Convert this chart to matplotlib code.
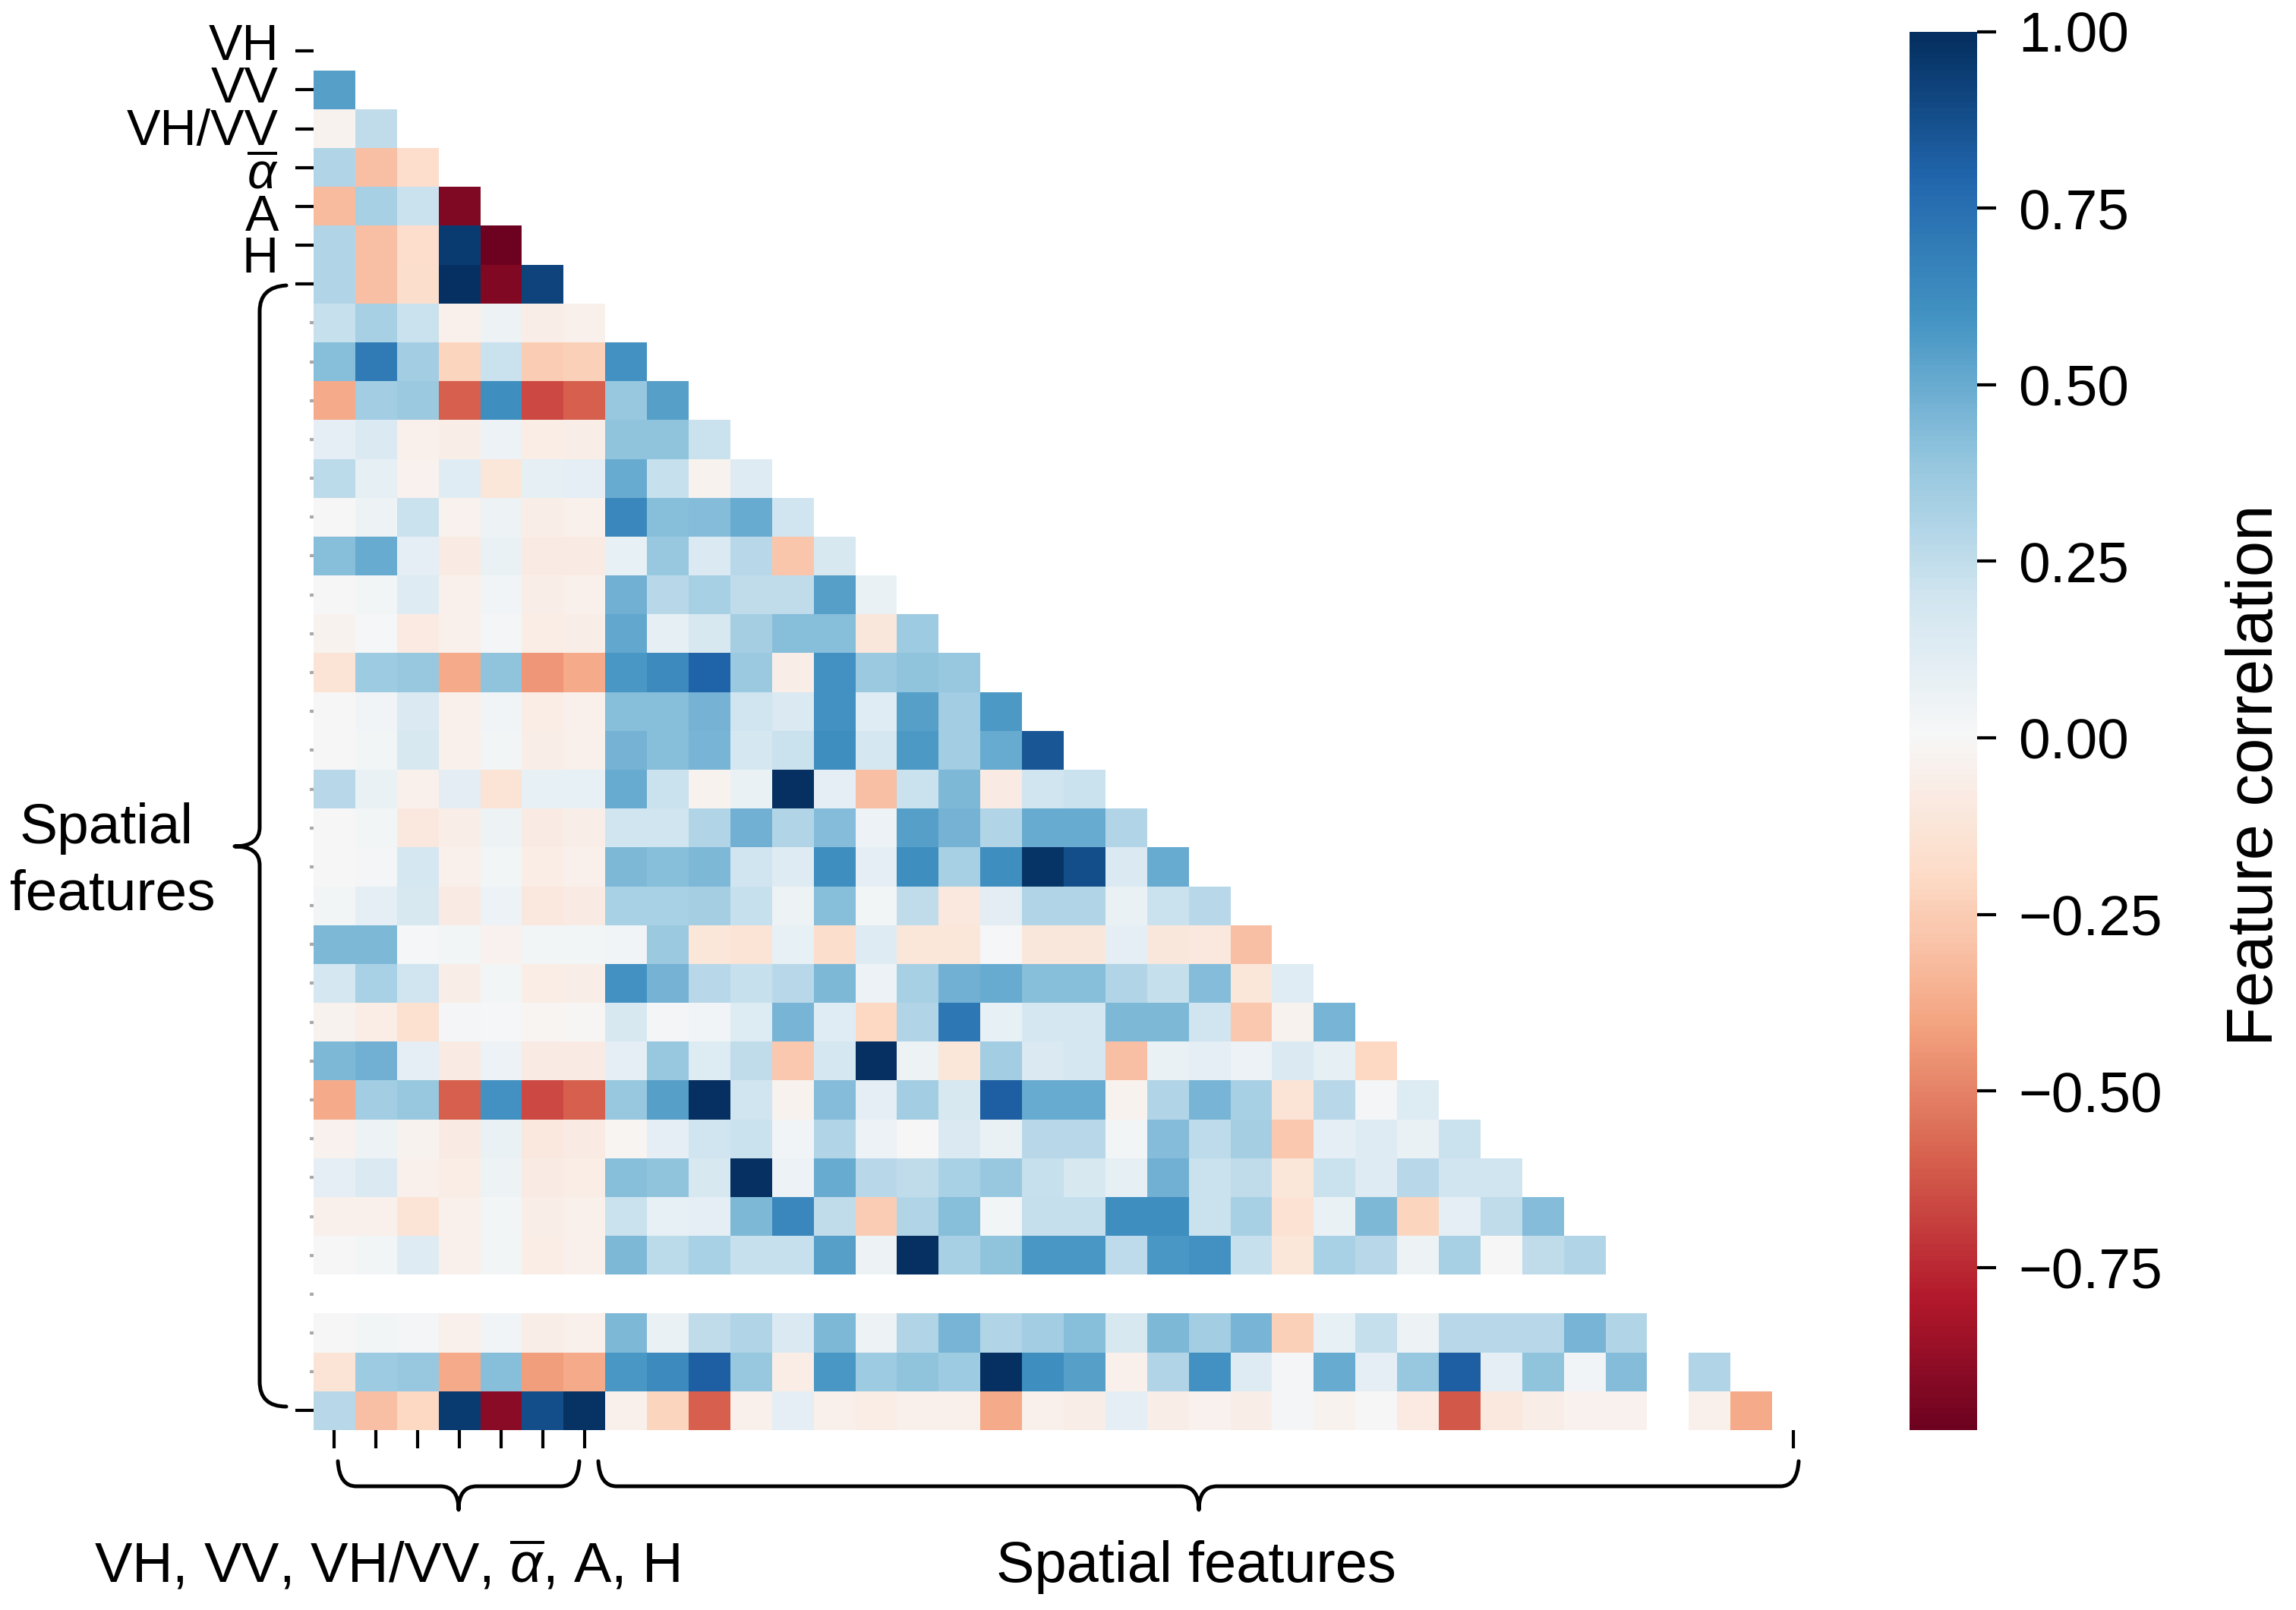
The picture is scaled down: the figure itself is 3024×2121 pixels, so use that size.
import matplotlib
matplotlib.use('Agg')
import matplotlib.pyplot as plt
from matplotlib.patches import PathPatch
from matplotlib.path import Path
import numpy as np
import seaborn as sns

nan = np.nan

# lower triangle of the correlation matrix, row by row (row 0 and row 32 are empty)
r01 = [.55]
r02 = [-.03, .25]
r03 = [.3, -.3, -.18]
r04 = [-.32, .33, .22, -.93]
r05 = [.3, -.3, -.18, .95, -.98]
r06 = [.3, -.3, -.17, 1.0, -.92, .92]
r07 = [.23, .33, .22, -.05, .05, -.06, -.05]
r08 = [.42, .7, .35, -.22, .22, -.25, -.23, .6]
r09 = [-.38, .35, .37, -.6, .62, -.66, -.6, .38, .55]
r10 = [.1, .15, -.05, -.06, .06, -.07, -.06, .4, .4, .22]
r11 = [.27, .09, -.04, .12, -.12, .09, .1, .5, .23, -.03, .13]
r12 = [0, .05, .22, -.04, .05, -.06, -.05, .65, .42, .43, .5, .2]
r13 = [.42, .5, .1, -.08, .07, -.08, -.08, .08, .38, .15, .28, -.28, .17]
r14 = [0, .03, .13, -.05, .04, -.06, -.05, .48, .28, .33, .25, .25, .55, .07]
r15 = [-.03, .01, -.09, -.05, .02, -.07, -.06, .52, .09, .17, .34, .42, .42, -.11, .36]
r16 = [-.13, .36, .38, -.38, .4, -.44, -.38, .58, .63, .8, .37, -.06, .6, .37, .4, .38]
r17 = [0, .04, .15, -.05, .04, -.07, -.05, .42, .42, .47, .2, .15, .6, .12, .55, .35, .57]
r18 = [0, .03, .17, -.05, .03, -.06, -.05, .47, .42, .46, .18, .22, .62, .18, .57, .35, .5, .85]
r19 = [.28, .07, -.05, .11, -.13, .08, .08, .5, .22, -.03, .07, 1.0, .1, -.3, .22, .45, -.08, .2, .22]
r20 = [0, .03, -.1, -.06, .05, -.08, -.06, .2, .2, .3, .48, .3, .43, .06, .55, .47, .3, .5, .5, .3]
r21 = [0, .02, .18, -.05, .03, -.07, -.05, .45, .42, .45, .2, .13, .62, .1, .62, .33, .62, .97, .88, .15, .5]
r22 = [.03, .1, .17, -.08, .06, -.1, -.08, .32, .32, .34, .23, .05, .42, .03, .25, -.1, .11, .3, .3, .07, .22, .28]
r23 = [.45, .45, .01, .03, -.04, .03, .03, .04, .37, -.12, -.13, .08, -.17, .13, -.12, -.12, .01, -.11, -.11, .1,
       -.11, -.1, -.3]
r24 = [.18, .32, .2, -.06, .03, -.07, -.06, .6, .47, .28, .23, .28, .45, .06, .33, .48, .5, .42, .42, .3, .24,
       .43, -.12, .12]
r25 = [-.03, -.07, -.16, .02, .01, -.02, -.01, .17, .02, .04, .14, .46, .12, -.2, .3, .72, .08, .18, .18, .45, .45,
       .2, -.27, -.03, .46]
r26 = [.45, .48, .1, -.08, .06, -.08, -.08, .1, .38, .14, .25, -.27, .18, 1.0, .05, -.12, .35, .15, .18, -.3, .07,
       .1, .06, .15, .09, -.2]
r27 = [-.38, .35, .38, -.6, .6, -.66, -.6, .38, .55, 1.0, .2, -.03, .43, .1, .35, .17, .82, .5, .5, -.03, .3,
       .46, .33, -.13, .28, .02, .14]
r28 = [-.04, .05, -.03, -.08, .07, -.1, -.08, -.02, .1, .2, .22, .04, .3, .06, 0, .15, .07, .28, .28, .03, .43,
       .26, .34, -.27, .1, .13, .07, .22]
r29 = [.1, .15, -.05, -.07, .05, -.08, -.07, .42, .4, .17, 1.0, .06, .5, .28, .25, .32, .38, .23, .17, .09, .48,
       .22, .25, -.12, .22, .13, .28, .2, .2]
r30 = [-.05, -.05, -.13, -.05, .03, -.06, -.05, .22, .08, .1, .45, .65, .25, -.25, .3, .42, .03, .24, .24, .62,
       .62, .22, .33, -.15, .07, .45, -.22, .1, .25, .43]
r31 = [0, .03, .13, -.05, .03, -.07, -.05, .45, .27, .32, .23, .23, .55, .05, 1.0, .33, .4, .58, .58, .26, .58,
       .6, .23, -.12, .32, .28, .05, .33, 0, .25, .3]
r33 = [0, .03, .02, -.05, .04, -.06, -.05, .45, .07, .25, .3, .15, .45, .05, .3, .46, .3, .35, .42, .17, .45, .35,
       .46, -.23, .08, .24, .05, .28, .28, .28, .46, .3, nan]
r34 = [-.13, .36, .38, -.38, .42, -.42, -.38, .58, .63, .82, .38, -.07, .58, .36, .4, .36, 1.0, .62, .55, -.05, .3,
       .6, .13, .02, .5, .1, .38, .82, .1, .4, .04, .43, nan, .3]
r35 = [.28, -.3, -.2, .95, -.9, .88, .98, -.05, -.22, -.6, -.05, .1, -.05, -.07, -.05, -.05, -.38, -.05, -.06, .1,
       -.06, -.04, -.06, .02, -.03, 0, -.09, -.62, -.1, -.06, -.04, -.04, nan, -.05, -.38]
rows = [[], r01, r02, r03, r04, r05, r06, r07, r08, r09, r10, r11, r12, r13, r14, r15, r16, r17, r18, r19, r20, r21,
        r22, r23, r24, r25, r26, r27, r28, r29, r30, r31, [], r33, r34, r35]

y_labels = ['VH', 'VV', 'VH/VV', r'$\overline{\alpha}$', 'A', 'H']
y_label_pos = [62, 118, 174, 231, 287, 342]  # hand placed, they drift away from the ticks
cbar_ticks = [-.75, -.5, -.25, 0, .25, .5, .75, 1]

W, H = 3024, 2121
plt.rcParams['font.family'] = ['Liberation Sans', 'DejaVu Sans']
plt.rcParams['mathtext.fontset'] = 'custom'
plt.rcParams['mathtext.rm'] = 'Liberation Sans'
plt.rcParams['mathtext.it'] = 'Liberation Sans:italic'

n = len(rows)
corr = np.full((n, n), nan)
for i, row in enumerate(rows):
    corr[i, :len(row)] = row
mask = np.triu(np.ones((n, n), dtype=bool))


def px_box(x0, y0, x1, y1):
    return [x0 / W, 1 - y1 / H, (x1 - x0) / W, (y1 - y0) / H]


def draw_path(fig, verts, codes):
    pts = [(x / W, 1 - y / H) for x, y in verts]
    fig.add_artist(PathPatch(Path(pts, codes), fc='none', ec='black', lw=1.2, transform=fig.transFigure,
                             capstyle='round', joinstyle='round'))


def hbrace(fig, x0, x1, tip, top=1925, mid=1958, end=1989):
    c3 = Path.CURVE3
    verts = [(x0, top), (x0 + 2, mid), (x0 + 24, mid), (tip - 24, mid), (tip, mid), (tip, end),
             (tip, mid), (tip + 24, mid), (x1 - 24, mid), (x1 - 2, mid), (x1, top)]
    codes = [Path.MOVETO, c3, c3, Path.LINETO, c3, c3, c3, c3, Path.LINETO, c3, c3]
    draw_path(fig, verts, codes)


fig = plt.figure(figsize=(W / 300, H / 300), dpi=300)
ax = fig.add_axes(px_box(413, 41.6, 2389, 1884))
cax = fig.add_axes(px_box(2515, 41.6, 2604, 1884))

sns.heatmap(corr, mask=mask, cmap='RdBu', center=0, vmin=-.98, vmax=1, ax=ax, cbar_ax=cax,
            xticklabels=False, yticklabels=False)

ax.set_xticks([i + .5 for i in list(range(7)) + [35]])
ax.set_yticks([i + .5 for i in range(n)])
ax.set_xticklabels([])
ax.set_yticklabels([])
ax.tick_params(axis='both', length=5.8, width=1.0, color='black')
for i, tick in enumerate(ax.yaxis.get_major_ticks()):
    if 7 <= i < 35:  # leftovers of the original ticks, nearly erased
        tick.tick1line.set_markersize(1.2)
        tick.tick1line.set_markeredgecolor('#aaaaaa')

cax.set_yticks(cbar_ticks)
cax.tick_params(labelsize=18, length=6, width=1.0, pad=7)
cax.set_ylabel('Feature correlation', fontsize=20.4)
cax.yaxis.set_label_coords(4.67, .468)

for lab, y in zip(y_labels, y_label_pos):
    fig.text(367 / W, 1 - y / H, lab, ha='right', va='center', fontsize=16)
fig.text(140 / W, 1 - 1091 / H, 'Spatial', ha='center', va='center', fontsize=18)
fig.text(148 / W, 1 - 1179 / H, 'features', ha='center', va='center', fontsize=18)
fig.text(124 / W, 1 - 2084 / H, r'VH, VV, VH/VV, $\overline{\alpha}$, A, H', ha='left', va='baseline', fontsize=17.8)
fig.text(1575 / W, 1 - 2084 / H, 'Spatial features', ha='center', va='baseline', fontsize=18.2)

# left brace
c3 = Path.CURVE3
draw_path(fig, [(377, 376), (342, 378), (342, 410), (342, 1090), (342, 1115), (309, 1115),
                (342, 1115), (342, 1140), (342, 1820), (342, 1853), (377, 1853)],
          [Path.MOVETO, c3, c3, Path.LINETO, c3, c3, c3, c3, Path.LINETO, c3, c3])
hbrace(fig, 445, 763, 604)
hbrace(fig, 788, 2369, 1579)

fig.savefig('out.png', dpi=300, facecolor='white')
